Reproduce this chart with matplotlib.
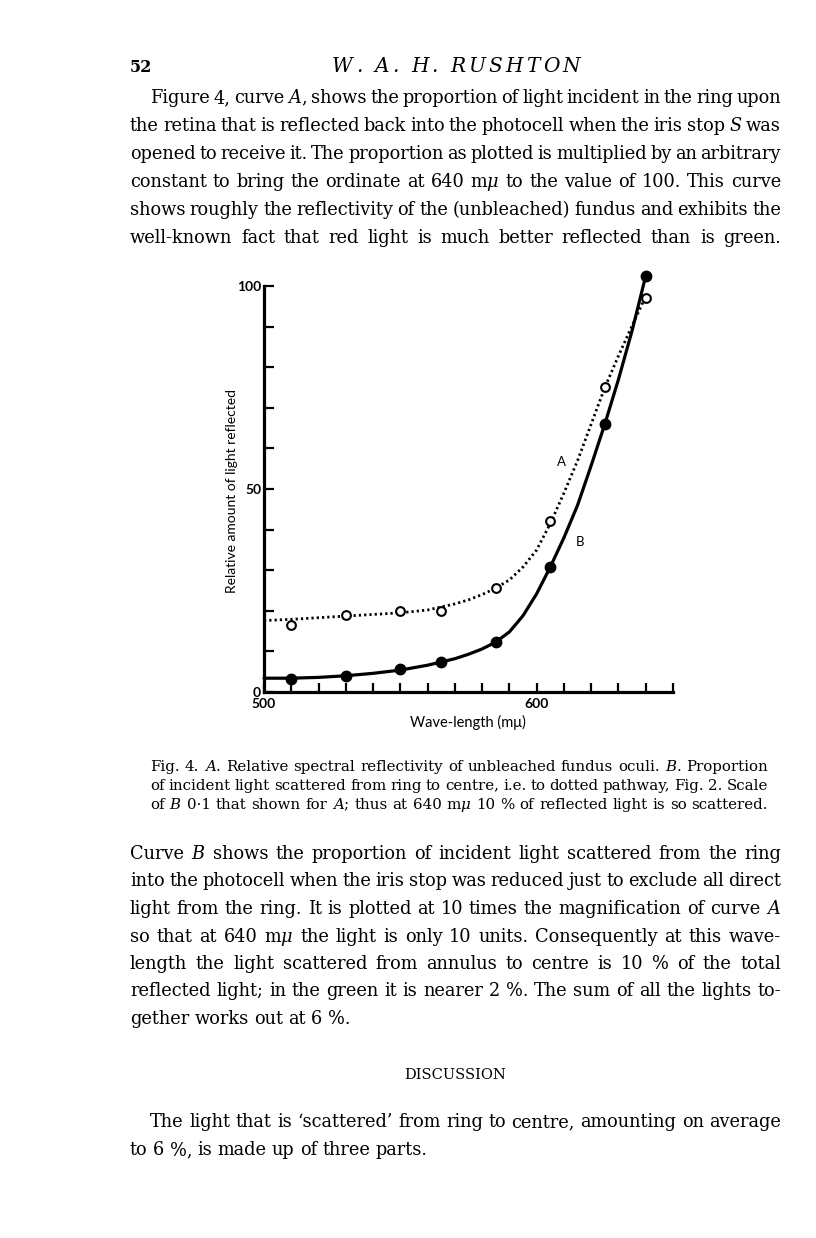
import numpy as np
import matplotlib.pyplot as plt

# page size in pixels (dpi 100)
W, H = 816, 1238

# measured points (wave-length in m-mu)
wl_pts = [510, 530, 550, 565, 585, 605, 625, 640]
a_pts = [16.6, 18.9, 19.9, 19.9, 25.6, 42.0, 75.1, 97.1]
b_pts = [3.2, 4.0, 5.7, 7.5, 12.3, 30.8, 66.0, 102.5]

# hand-drawn curves
curve_wl = [500, 510, 520, 530, 540, 550, 560, 570, 575, 580, 585, 590,
            595, 600, 605, 610, 615, 620, 625, 630, 635, 640]
curve_a = [17.6, 17.9, 18.3, 18.7, 19.1, 19.5, 20.2, 21.7, 22.7, 24.0, 25.6, 27.6,
           30.8, 35.0, 41.5, 49.0, 57.0, 66.0, 75.0, 82.8, 90.2, 97.5]
curve_b = [3.4, 3.4, 3.6, 4.0, 4.6, 5.4, 6.6, 8.2, 9.3, 10.6, 12.3, 14.8,
           18.8, 24.2, 30.8, 38.0, 46.0, 55.8, 66.0, 77.0, 89.0, 102.5]

x_ticks = list(range(500, 651, 10))
x_labels = {500: '500', 600: '600'}
y_ticks = list(range(0, 101, 10))
y_labels = {0: '0', 50: '50', 100: '100'}

header = "W. A. H. RUSHTON"
para1 = [
    "Figure 4, curve $A$, shows the proportion of light incident in the ring upon",
    "the retina that is reflected back into the photocell when the iris stop $S$ was",
    "opened to receive it. The proportion as plotted is multiplied by an arbitrary",
    "constant to bring the ordinate at 640 m$\\mu$ to the value of 100. This curve",
    "shows roughly the reflectivity of the (unbleached) fundus and exhibits the",
    "well-known fact that red light is much better reflected than is green.",
]
caption = [
    "Fig. 4.  $A$. Relative spectral reflectivity of unbleached fundus oculi.  $B$. Proportion",
    "of incident light scattered from ring to centre, i.e. to dotted pathway, Fig. 2.  Scale",
    "of $B$ 0\u00b71 that shown for $A$; thus at 640 m$\\mu$ 10\u2009% of reflected light is so scattered.",
]
para2 = [
    "Curve $B$ shows the proportion of incident light scattered from the ring",
    "into the photocell when the iris stop was reduced just to exclude all direct",
    "light from the ring.  It is plotted at 10 times the magnification of curve $A$",
    "so that at 640 m$\\mu$ the light is only 10 units.  Consequently at this wave-",
    "length the light scattered from annulus to centre is 10\u2009% of the total",
    "reflected light; in the green it is nearer 2\u2009%. The sum of all the lights to-",
    "gether works out at 6\u2009%.",
]
para3 = [
    "The light that is \u2018scattered\u2019 from ring to centre, amounting on average",
    "to 6\u2009%, is made up of three parts.",
]

plt.rcParams['mathtext.fontset'] = 'dejavuserif'
fig = plt.figure(figsize=(W / 100, H / 100), dpi=100)
renderer = fig.canvas.get_renderer()
serif = 'DejaVu Serif'


def put_line(words, x0, x1, y, size, justify=True, **kw):
    # place words one by one so the line fills x0..x1 (pixels from top-left)
    arts = [fig.text(0, 0, w, fontsize=size, family=serif, va='baseline', **kw)
            for w in words]
    widths = [a.get_window_extent(renderer).width for a in arts]
    if justify and len(words) > 1:
        gap = (x1 - x0 - sum(widths)) / (len(words) - 1)
    else:
        gap = size * 100 / 72 * 0.3
    x = x0
    for a, w in zip(arts, widths):
        a.set_position((x / W, 1 - y / H))
        x += w + gap


def put_spaced(text, x0, x1, y, size, **kw):
    # letter-spaced running head
    space = size * 100 / 72 * 0.3
    arts, widths = [], []
    for ch in text:
        if ch == ' ':
            arts.append(None)
            widths.append(space)
        else:
            a = fig.text(0, 0, ch, fontsize=size, family=serif, va='baseline', **kw)
            arts.append(a)
            widths.append(a.get_window_extent(renderer).width)
    track = (x1 - x0 - sum(widths)) / (len(text) - 1)
    x = x0
    for a, w in zip(arts, widths):
        if a is not None:
            a.set_position((x / W, 1 - y / H))
        x += w + track


# header
fig.text(130 / W, 1 - 72 / H, '52', fontsize=11.5, family=serif, weight='bold', va='baseline')
put_spaced(header, 332, 580, 72, 14.5, style='italic')

body = 12.8
for i, line in enumerate(para1):
    put_line(line.split(), 150 if i == 0 else 130, 781, 103 + 28 * i, body)

for i, line in enumerate(caption):
    put_line(line.split(), 150, 768, 771 + 19 * i, 10.8)

for i, line in enumerate(para2):
    put_line(line.split(), 130, 781, 859 + 27.5 * i, body, justify=i < len(para2) - 1)

fig.text(455 / W, 1 - 1079 / H, 'DISCUSSION', fontsize=10.5, family=serif,
         ha='center', va='baseline')

for i, line in enumerate(para3):
    put_line(line.split(), 150 if i == 0 else 130, 781, 1127 + 28 * i, body, justify=i == 0)

# the chart
ymax = 106
ax = fig.add_axes([264 / W, (H - 692) / H, 409 / W, ymax * 4.06 / H])
ax.set_xlim(500, 650)
ax.set_ylim(0, ymax)
ax.patch.set_alpha(0)

ax.plot(curve_wl, curve_b, color='black', lw=2.3, solid_capstyle='round', clip_on=False)
ax.plot(curve_wl, curve_a, color='black', lw=2.0, linestyle=(0, (0.8, 1.1)), clip_on=False)
ax.plot(wl_pts, b_pts, 'o', color='black', ms=7.5, clip_on=False, zorder=4)
ax.plot(wl_pts, a_pts, 'o', mfc='white', mec='black', mew=1.5, ms=6.3,
        clip_on=False, zorder=4)

for side in ['top', 'right']:
    ax.spines[side].set_visible(False)
for side in ['left', 'bottom']:
    ax.spines[side].set_linewidth(2.3)
ax.spines['left'].set_bounds(0, 100)
ax.spines['bottom'].set_bounds(500, 650)

chart_font = ['Lato', 'DejaVu Sans']
ax.set_xticks(x_ticks)
ax.set_xticklabels([x_labels.get(t, '') for t in x_ticks], family=chart_font,
                   fontsize=10, weight='bold')
ax.set_yticks(y_ticks)
ax.set_yticklabels([y_labels.get(t, '') for t in y_ticks], family=chart_font,
                   fontsize=10, weight='bold')
ax.tick_params(axis='x', direction='in', length=6.5, width=1.6, pad=4)
ax.tick_params(axis='y', direction='in', length=7.5, width=1.6, pad=2)

fig.text(232 / W, 1 - 491 / H, 'Relative amount of light reflected', rotation=90,
         family=chart_font, fontsize=10, ha='center', va='center')
fig.text(468 / W, 1 - 722 / H, 'Wave-length (m\u03bc)', family=chart_font,
         fontsize=10.5, ha='center', va='center')
ax.text(609, 56.7, 'A', family=chart_font, fontsize=9.5, ha='center', va='center')
ax.text(616, 37, 'B', family=chart_font, fontsize=9.5, ha='center', va='center')

fig.savefig('out.png', dpi=100)
